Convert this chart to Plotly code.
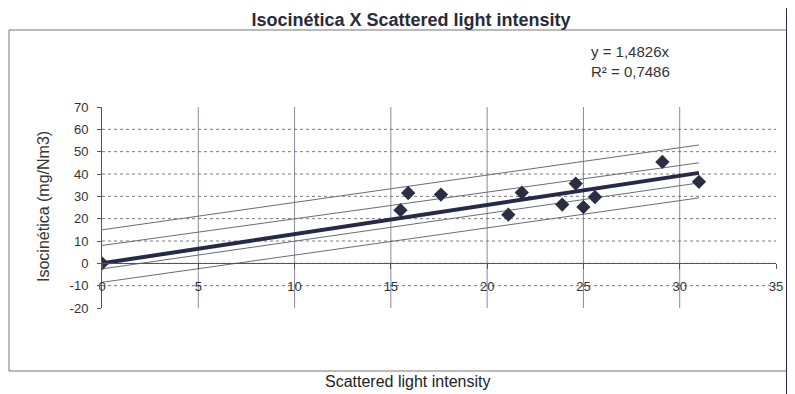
import plotly.graph_objects as go

# ---- data ----
light = [0.0, 15.5, 15.9, 17.6, 21.1, 21.8, 23.9, 24.6, 25.0, 25.6, 29.1, 31.0]
iso = [0.0, 23.8, 31.5, 30.8, 21.8, 31.7, 26.3, 35.7, 25.2, 29.7, 45.4, 36.5]

trend_x = [0.0, 31.0]
trend_y = [0.0, 40.5]
upper_pred_x = [0.0, 31.0]
upper_pred_y = [15.0, 53.0]
upper_conf_x = [0.0, 31.0]
upper_conf_y = [8.0, 45.0]
lower_conf_x = [0.0, 31.0]
lower_conf_y = [-2.5, 36.0]
lower_pred_x = [0.0, 31.0]
lower_pred_y = [-8.5, 29.3]

x_ticks = [0, 5, 10, 15, 20, 25, 30, 35]
x_tick_labels = ["0", "5", "10", "15", "20", "25", "30", "35"]
y_ticks = [-20, -10, 0, 10, 20, 30, 40, 50, 60, 70]
y_tick_labels = ["-20", "-10", "0", "10", "20", "30", "40", "50", "60", "70"]

title_text = "Isocinética X Scattered light intensity"
x_title = "Scattered light intensity"
y_title = "Isocinética (mg/Nm3)"
eq_lines = ["y = 1,4826x", "R² = 0,7486"]

# ---- layout geometry (page pixels; the page body adds an 8px offset) ----
OFF = 8
W, H = 795 - OFF, 394 - OFF
PL, PR, PT, PB = 102, 776, 107, 308


def px(x):
    return (x - PL) / (PR - PL)


def py(y):
    return (PB - y) / (PB - PT)


FONT = "Liberation Sans, Arial, sans-serif"
band_color = "#6b6b78"
dark = "#2b2d42"

xmin, xmax = 0, 35
ymin, ymax = -20, 70

fig = go.Figure()
for xs, ys in [(upper_pred_x, upper_pred_y), (upper_conf_x, upper_conf_y),
               (lower_conf_x, lower_conf_y), (lower_pred_x, lower_pred_y)]:
    fig.add_trace(go.Scatter(x=xs, y=ys, mode="lines",
                             line=dict(color=band_color, width=1),
                             showlegend=False, hoverinfo="skip"))
fig.add_trace(go.Scatter(x=trend_x, y=trend_y, mode="lines",
                         line=dict(color="#262a48", width=4),
                         showlegend=False))
fig.add_trace(go.Scatter(x=light, y=iso, mode="markers",
                         marker=dict(symbol="diamond", size=11, color=dark),
                         showlegend=False))

zero_pos = (0 - ymin) / (ymax - ymin)

shapes = [
    dict(type="rect", xref="paper", yref="paper",
         x0=px(9), x1=px(787), y0=py(371), y1=py(30),
         line=dict(color="#777", width=1), layer="below"),
    dict(type="line", xref="paper", yref="paper",
         x0=px(787), x1=px(787), y0=py(394), y1=py(OFF),
         line=dict(color="#2a2a55", width=2)),
]
# gridlines (inner ticks only, as in the reference)
for v in x_ticks[1:-1]:
    shapes.append(dict(type="line", xref="x", yref="y", x0=v, x1=v,
                       y0=ymin, y1=ymax, layer="below",
                       line=dict(color="#8a8aa0", width=1)))
for v in y_ticks[1:-1]:
    shapes.append(dict(type="line", xref="x", yref="y", x0=xmin, x1=xmax,
                       y0=v, y1=v, layer="below",
                       line=dict(color="#7a7a7a", width=1, dash="dot")))

fig.update_layout(
    width=W, height=H,
    margin=dict(l=PL - OFF, r=795 - PR, t=PT - OFF, b=394 - PB),
    paper_bgcolor="white", plot_bgcolor="white",
    font=dict(family=FONT, color="#333340"),
    title=dict(text="<b>" + title_text + "</b>", x=(411 - OFF) / W,
               xanchor="center", y=1 - (20 - OFF) / H, yanchor="middle",
               font=dict(size=18, color="#2a2a3a", family=FONT)),
    xaxis=dict(range=[xmin, xmax], tickvals=x_ticks, ticktext=x_tick_labels,
               showgrid=False,
               anchor="free", position=zero_pos,
               showline=True, linecolor="#555", linewidth=1,
               ticks="outside", ticklen=5, tickcolor="#555",
               ticklabelstandoff=6,
               tickfont=dict(size=13, color="#333"),
               zeroline=False),
    yaxis=dict(range=[ymin, ymax], tickvals=y_ticks, ticktext=y_tick_labels,
               showgrid=False,
               showline=True, linecolor="#555", linewidth=1,
               ticks="outside", ticklen=4, tickcolor="#555",
               ticklabelstandoff=6,
               tickfont=dict(size=13, color="#333"),
               zeroline=False),
    shapes=shapes,
    annotations=[
        dict(text="<br>".join(eq_lines), xref="paper", yref="paper",
             x=px(589), y=py(41), xanchor="left", yanchor="top",
             align="left", showarrow=False,
             font=dict(size=15, color="#333")),
        dict(text=x_title, xref="paper", yref="paper",
             x=px(407), y=py(381), xanchor="center", yanchor="middle",
             showarrow=False, font=dict(size=16, color="#222")),
        dict(text=y_title, xref="paper", yref="paper",
             x=px(43), y=py(207), xanchor="center", yanchor="middle",
             textangle=-90, showarrow=False,
             font=dict(size=16, color="#333")),
    ],
)

fig.write_html("out.html")
